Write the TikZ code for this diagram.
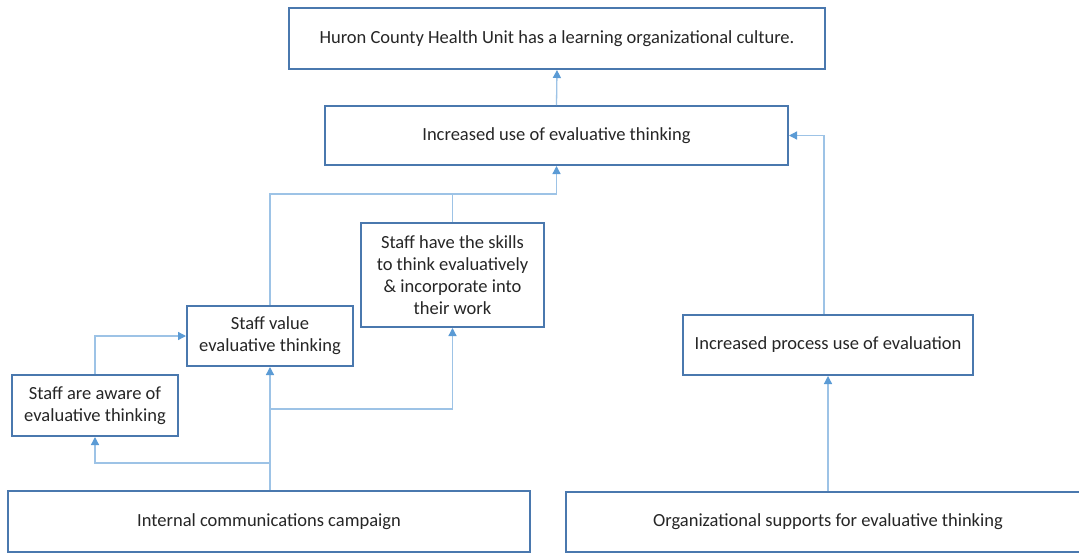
\documentclass[tikz,border=0pt]{standalone}
\usepackage{fontspec}
\setmainfont{Carlito}
\usetikzlibrary{arrows.meta,calc}
\definecolor{boxc}{HTML}{4A78AE}
\definecolor{linec}{HTML}{9DC3E6}
\definecolor{tipc}{HTML}{5B9BD5}
\definecolor{txtc}{HTML}{262626}
\begin{document}
\begin{tikzpicture}[x=1pt,y=-1pt,
  box/.style={draw=boxc,line width=2pt,fill=white,inner sep=0pt,align=center,
    text=txtc,font=\fontsize{18.5}{22}\selectfont},
  conn/.style={draw=linec,line width=1.3pt},
  arr/.style={conn,-{Triangle[width=8pt,length=8pt,color=tipc,fill=tipc]}}]
\useasboundingbox (0,0) rectangle (1079,555);
\clip (0,0) rectangle (1079,555);
\fill[white] (0,0) rectangle (1079,555);
\node[box,minimum width=536pt,minimum height=61pt] (top) at (557,38.5) {Huron County Health Unit has a learning organizational culture.};
\node[box,minimum width=463pt,minimum height=59pt] (inc) at (556.5,135.5) {Increased use of evaluative thinking};
\node[box,minimum width=183pt,minimum height=104pt] (skills) at (452.5,275) {Staff have the skills\\to think evaluatively\\\& incorporate into\\their work};
\node[box,minimum width=166pt,minimum height=60pt] (value) at (270,336) {Staff value\\evaluative thinking};
\node[box,minimum width=166pt,minimum height=61pt] (aware) at (95,405.5) {Staff are aware of\\evaluative thinking};
\node[box,minimum width=522pt,minimum height=61pt] (comms) at (269,521.5) {Internal communications campaign};
\node[box,minimum width=290pt,minimum height=60pt] (proc) at (828,345) {Increased process use of evaluation};
\node[box,minimum width=524pt,minimum height=60pt] (org) at (828,522) {Organizational supports for evaluative thinking};
\coordinate (jm) at (452,194);
\coordinate (j1) at (270,463);
\coordinate (j2) at (270,409);
\draw[arr] (inc.north) -- (top.south);
\draw[arr] ([xshift=-4pt]proc.north) |- (inc.east);
\draw[arr] (org.north) -- (proc.south);
\draw[arr] (comms.north -| value.south) -- (value.south);
\draw[arr] (j1) -| (aware.south);
\draw[arr] (j2) -| (skills.south);
\draw[arr] (aware.north) |- (value.west);
\draw[conn] (value.north) |- (jm);
\draw[arr] (skills.north) |- (jm) -| (inc.south);
\end{tikzpicture}
\end{document}
